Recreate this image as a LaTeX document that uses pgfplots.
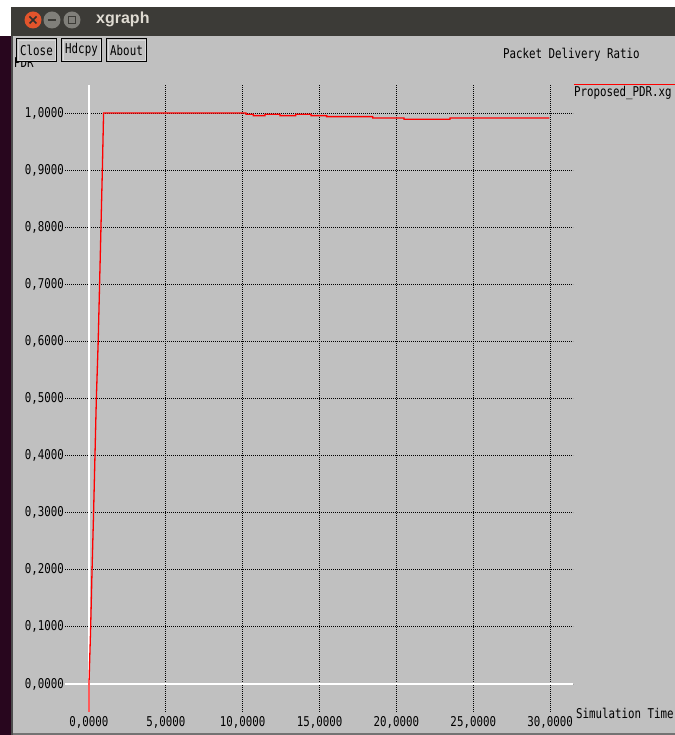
\documentclass[border=0pt]{standalone}
\usepackage{fontspec}
\usepackage{pgfplots}
\pgfplotsset{compat=1.18}

% xgraph-like fixed-width font
\newfontfamily\xf[FakeStretch=0.8]{DejaVu Sans Mono}
\newfontfamily\titlef{Liberation Sans}
\newcommand\xtext{\xf\fontsize{13.5bp}{15bp}\selectfont}

\definecolor{xgbg}{RGB}{192,192,192}
\definecolor{tbar}{RGB}{60,59,55}
\definecolor{aub}{RGB}{40,6,30}
\definecolor{closeor}{RGB}{226,84,44}
\definecolor{wbtn}{RGB}{128,127,122}
\definecolor{ttext}{RGB}{223,219,210}

\begin{document}
\begin{tikzpicture}[x=1bp,y=1bp]
  \clip (0,0) rectangle (675,735);
  % desktop and window frame
  \fill[white] (0,0) rectangle (675,735);
  \fill[aub] (0,0) rectangle (12,699);
  \fill[black!70] (11,0) rectangle (13,699);
  \fill[xgbg] (13,0) rectangle (675,699);
  \fill[black!55] (13,0) rectangle (675,2);
  % title bar
  \fill[tbar] (11,699) rectangle (675,728);
  \fill[closeor] (33,715) circle (8.5);
  \draw[tbar!80!black, line width=1.6bp] (29.5,711.5) -- (36.5,718.5) (29.5,718.5) -- (36.5,711.5);
  \fill[wbtn] (52,715) circle (8.5);
  \draw[tbar, line width=1.6bp] (48,715) -- (56,715);
  \fill[wbtn] (72,715) circle (8.5);
  \draw[tbar, line width=1.2bp] (68.5,711.5) rectangle (75.5,718.5);
  \node[anchor=west, inner sep=0pt, text=ttext, font=\titlef\bfseries\fontsize{16bp}{18bp}\selectfont] at (96,716) {xgraph};

  % axis name at the top left, partly behind the buttons
  \node[anchor=base west, inner sep=0pt, font=\xtext] at (14,667) {PDR};

  % buttons
  \foreach \xa/\xb/\lab in {16/57/Close, 61/102/Hdcpy, 106/147/About}{
    \fill[xgbg] (\xa,673) rectangle (\xb,697);
    \draw[black, line width=1.4bp] (\xa+0.7,673.7) rectangle (\xb-0.7,696.3);
    \draw[white!85!black, line width=0.8bp] (\xa+2,675) rectangle (\xb-2,695);
    \node[font=\xtext, inner sep=0pt] at ({(\xa+\xb)/2},685) {\lab};
  }

  % title and legend
  \node[font=\xtext, anchor=west, inner sep=0pt] at (503,680) {Packet Delivery Ratio};
  \draw[red, line width=1.2bp] (574,650.5) -- (675,650.5);
  \node[font=\xtext, anchor=west, inner sep=0pt] at (574,642) {Proposed\_PDR.xg};
  \node[font=\xtext, anchor=west, inner sep=0pt] at (576,22) {Simulation Time};

  \begin{axis}[
    at={(65bp,23bp)}, anchor=south west,
    scale only axis, width=508bp, height=627bp,
    xmin=-1.56, xmax=31.49, ymin=-0.049, ymax=1.049,
    axis line style={draw=none},
    major tick length=0pt,
    grid=major,
    major grid style={black, line width=0.9bp, dash pattern=on 1bp off 1bp},
    xtick={0,5,10,15,20,25,30},
    xticklabels={{0,0000},{5,0000},{10,0000},{15,0000},{20,0000},{25,0000},{30,0000}},
    ytick={0,0.1,0.2,0.3,0.4,0.5,0.6,0.7,0.8,0.9,1.0},
    yticklabels={{0,0000},{0,1000},{0,2000},{0,3000},{0,4000},{0,5000},{0,6000},{0,7000},{0,8000},{0,9000},{1,0000}},
    xticklabel style={font=\xtext, anchor=center, inner sep=0pt, yshift=-10bp},
    yticklabel style={font=\xtext, anchor=east, inner sep=0pt, xshift=-1bp},
  ]
    % zero lines
    \draw[white, line width=1.2bp] (axis cs:0,-0.049) -- (axis cs:0,1.049);
    \draw[white, line width=1.2bp] (axis cs:-1.56,0) -- (axis cs:31.49,0);
    % packet delivery ratio over simulation time
    \addplot[red, line width=1.3bp, mark=none] coordinates {
      (0,-0.06) (0,0) (0.11,0.1) (0.20,0.2) (0.30,0.3) (0.39,0.4) (0.48,0.5)
      (0.60,0.6) (0.69,0.7) (0.78,0.8) (0.87,0.9) (0.95,1.0)
      (10.21,1.0) (10.21,0.9977) (10.69,0.9977) (10.69,0.9953)
      (11.45,0.9953) (11.45,0.9977) (12.43,0.9977) (12.43,0.9953)
      (13.45,0.9953) (13.45,0.9977) (14.44,0.9977) (14.44,0.9953)
      (15.46,0.9953) (15.46,0.9936) (18.46,0.9936) (18.46,0.9912)
      (20.49,0.9912) (20.49,0.9889) (23.49,0.9889) (23.49,0.9912)
      (29.95,0.9912)
    };
  \end{axis}
\end{tikzpicture}
\end{document}
